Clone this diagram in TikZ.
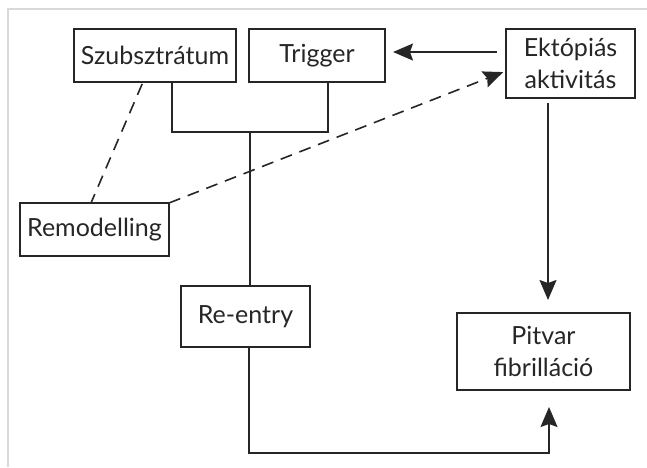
\documentclass[tikz,border=0pt]{standalone}
\usepackage{fontspec}
\setmainfont{Lato}
\usetikzlibrary{positioning,arrows.meta}

\begin{document}
\begin{tikzpicture}[x=1pt,y=-1pt,every node/.style={block},
				block/.style={draw=black!85,rectangle,line width=1.9pt,outer sep=0pt,inner sep=0pt,
					align=center,text=black!85,font=\fontsize{25}{32}\selectfont},
				link/.style={line width=1.6pt,black!85},
				dashlink/.style={link,dash pattern=on 12pt off 8pt},
				tip/.style={-{Stealth[length=20pt,width=17pt,inset=3pt]}}]
				\useasboundingbox (0,0) rectangle (647,467);
				\draw[black!15,line width=1.5pt] (8,467) -- (8,9) -- (647,9);
				
				\node (szub)  [minimum width=162pt,minimum height=53pt] at (155,55.5)    {Szubsztrátum};
				\node (trig)  [minimum width=136pt,minimum height=53pt,right=13pt of szub] {Trigger};
				\node (ekt)   [minimum width=129pt,minimum height=69pt] at (570.5,63.5)  {Ektópiás\\aktivitás};
				\node (remod) [minimum width=149pt,minimum height=53pt] at (94.5,229.5)  {Remodelling};
				\node (reent) [minimum width=129pt,minimum height=61pt] at (245.5,316.5) {Re-entry};
				\node (pitv)  [minimum width=173pt,minimum height=77pt] at (543.5,351.5) {Pitvar\\fibrilláció};
				\coordinate (join) at (250,132);
				\coordinate (bend) at (549,453);
				
				\draw[link] ([xshift=17pt]szub.south) |- (join) -| ([xshift=11pt]trig.south);
				\draw[link] (join) -- (join |- reent.north);
				\draw[link,tip,shorten >=17pt] ([xshift=3.5pt]reent.south) |- (bend) -- (bend |- pitv.south);
				\draw[link,tip,shorten <=5pt,shorten >=13pt] ([xshift=-22.5pt]ekt.south) -- ([xshift=-22.5pt]ekt.south |- pitv.north);
				\draw[link,tip,shorten <=9pt,shorten >=8pt] ([yshift=11.5pt]ekt.west) -- ([yshift=11.5pt]ekt.west -| trig.east);
				\draw[dashlink,shorten <=2pt] ([xshift=-12pt]szub.south) -- ([xshift=-3.5pt]remod.north);
				\draw[dashlink,tip,shorten >=3pt] (remod.north east) -- ([yshift=-7.5pt]ekt.west);
			\end{tikzpicture}
\end{document}
